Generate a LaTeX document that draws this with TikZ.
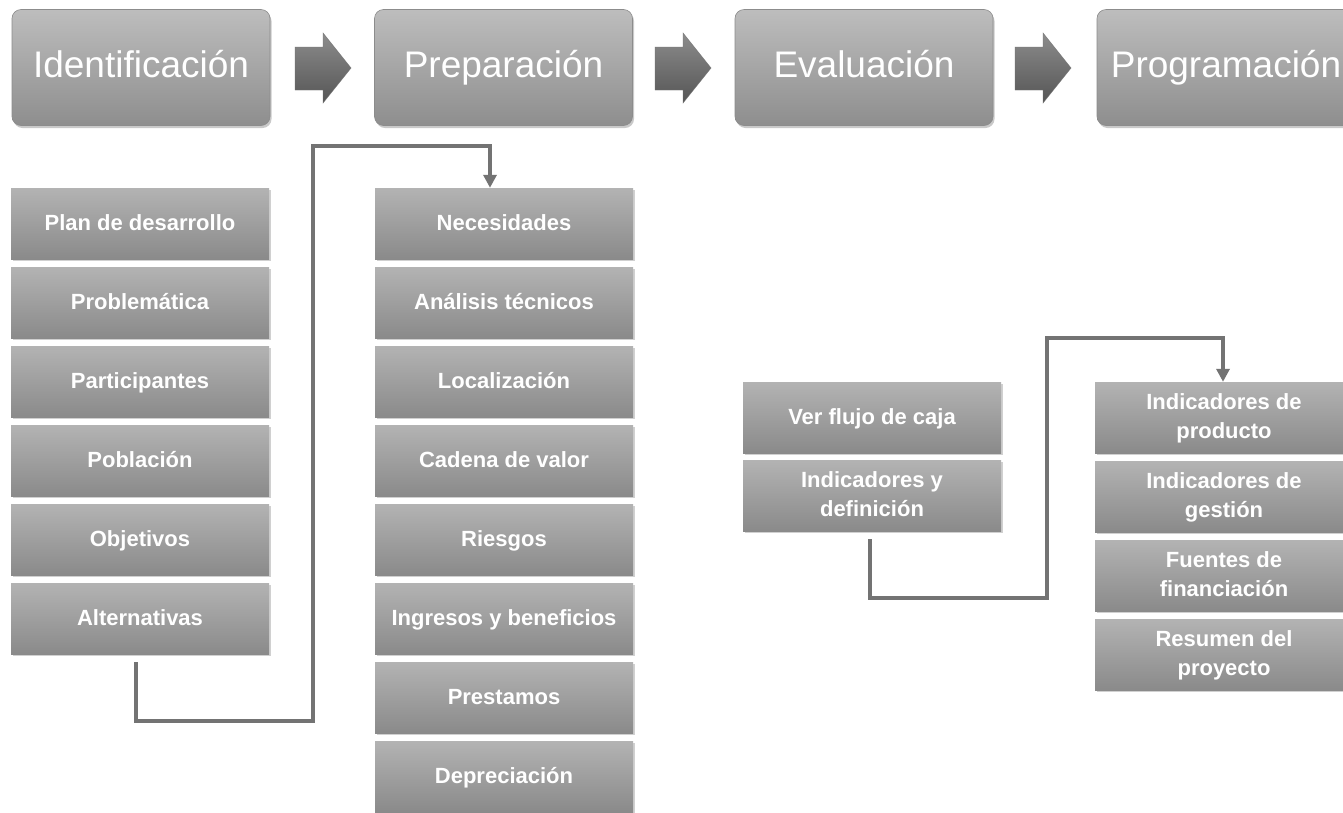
\documentclass[tikz,border=0pt]{standalone}
\usepackage{fontspec}
\setmainfont{Liberation Sans}
\usetikzlibrary{shadows,arrows.meta}
\definecolor{boxtop}{HTML}{B3B3B3}
\definecolor{boxbot}{HTML}{8A8A8A}
\definecolor{htop}{HTML}{BDBDBD}
\definecolor{hbot}{HTML}{8E8E8E}
\definecolor{conncol}{HTML}{737373}
\definecolor{arrtop}{HTML}{8C8C8C}
\definecolor{arrbot}{HTML}{555555}
\tikzset{
  header/.style={rectangle, rounded corners=9pt, minimum width=258pt, minimum height=116pt,
    top color=htop, bottom color=hbot, draw=black!45, line width=0.6pt,
    text=white, font=\fontsize{37}{40}\selectfont, text height=27pt, text depth=8pt,
    drop shadow={shadow xshift=1.5pt, shadow yshift=-2.5pt, opacity=0.35, fill=black!60}},
  item/.style={rectangle, minimum width=258pt, minimum height=71pt, inner sep=2pt,
    top color=boxtop, bottom color=boxbot, text=white, align=center,
    font=\fontsize{22}{29}\selectfont\bfseries, text height=16pt, text depth=3pt,
    drop shadow={shadow xshift=1.5pt, shadow yshift=-2pt, opacity=0.3, fill=black!60}},
  twoline/.style={text height=45pt, text depth=3pt},
  conn/.style={draw=conncol, line width=4pt},
  blockarrow/.style={top color=arrtop, bottom color=arrbot, draw=black!55, line width=0.4pt}
}
\begin{document}
\begin{tikzpicture}[x=1pt,y=-1pt]
\useasboundingbox (0,0) rectangle (1343,812);
\fill[white] (0,0) rectangle (1343,812);
% headers
\node[header] (h1) at (141,67.5) {Identificación};
\node[header] (h2) at (503.5,67.5) {Preparación};
\node[header] (h3) at (864,67.5) {Evaluación};
\node[header] (h4) at (1226,67.5) {Programación};
% block arrows
\foreach \xo in {295,655,1015}{
  \shade[blockarrow] (\xo,47) -- ++(28,0) -- ++(0,-14) -- ++(28,35) -- ++(-28,35) -- ++(0,-13) -- ++(-28,0) -- cycle;
}
% left column
\node[item] (pd)  at (140,223.5) {Plan de desarrollo};
\node[item] (pr)  at (140,302.5) {Problemática};
\node[item] (pa)  at (140,381.5) {Participantes};
\node[item] (po)  at (140,460.5) {Población};
\node[item] (ob)  at (140,539.5) {Objetivos};
\node[item] (alt) at (140,618.5) {Alternativas};
% middle column
\node[item] (nec) at (504,223.5) {Necesidades};
\node[item] (an)  at (504,302.5) {Análisis técnicos};
\node[item] (lo)  at (504,381.5) {Localización};
\node[item] (ca)  at (504,460.5) {Cadena de valor};
\node[item] (ri)  at (504,539.5) {Riesgos};
\node[item] (in)  at (504,618.5) {Ingresos y beneficios};
\node[item] (pe)  at (504,697.5) {Prestamos};
\node[item] (de)  at (504,776.5) {Depreciación};
% evaluation column
\node[item] (vf)  at (872,417.5) {Ver flujo de caja};
\node[item,twoline] (def) at (872,495.5) {Indicadores y\\definición};
% programming column
\node[item,twoline] (ip)  at (1224,417.5) {Indicadores de\\producto};
\node[item,twoline] (ig)  at (1224,496.5) {Indicadores de\\gestión};
\node[item,twoline] (ff)  at (1224,575.5) {Fuentes de\\financiación};
\node[item,twoline] (rp)  at (1224,654.5) {Resumen del\\proyecto};
% connectors
\coordinate (k1) at (136,721);
\coordinate (k2) at (313,146);
\coordinate (k5) at (490,188);
\draw[conn, shorten <=8pt, -{Triangle[length=13pt,width=13pt]}]
  (alt.south -| k1) -- (k1) -| (k2) -| (k5 |- nec.north);
\coordinate (k3) at (870,598);
\coordinate (k4) at (1047,338);
\coordinate (k6) at (1223,380);
\draw[conn, shorten <=8pt, -{Triangle[length=13pt,width=13pt]}]
  (def.south -| k3) -- (k3) -| (k4) -| (k6 |- ip.north);
\end{tikzpicture}
\end{document}
